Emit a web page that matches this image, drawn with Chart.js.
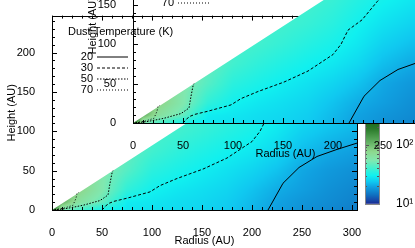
<!DOCTYPE html>
<html lang="en">
<head>
<meta charset="UTF-8">
<title>Dust temperature</title>
<script src="https://cdn.jsdelivr.net/npm/chart.js@4.4.0/dist/chart.umd.min.js"></script>
<style>
  html, body { margin: 0; padding: 0; background: #fff; }
  #wrap { position: relative; width: 415px; height: 248px; overflow: hidden; }
  canvas { position: absolute; }
  #main { left: 0; top: 0; background: #fff; }
  #cbar { left: 360px; top: 105px; }
  #inset { left: 81px; top: -87px; }
</style>
</head>
<body>
<div id="wrap">
  <canvas id="main" width="415" height="248"></canvas>
  <canvas id="cbar" width="55" height="115"></canvas>
  <canvas id="inset" width="415" height="248"></canvas>
</div>
<script>
// grid of dust temperature (K)
const radiusNodes = [0, 10, 25, 50, 75, 100, 125, 150, 175, 200, 225, 250, 275, 300, 325];
const heightNodes = [0, 10, 25, 50, 75, 100, 125, 150, 175, 200, 250];
const dustTemp = [
  [250,  50, 42, 31,   28.5, 27.5, 26.5, 25.5, 24,   21.5, 19,   17.5, 16.5, 15.5, 15],
  [250, 110, 65, 47,   29.5, 28.5, 27,   26,   24.5, 22,   19.5, 18,   17,   16,   15.5],
  [250, 130, 80, 55,   36,   30.5, 28.5, 27,   25.5, 23,   20.5, 19,   17.5, 16.5, 16],
  [250, 130, 90, 56,   44,   35,   32,   29.5, 27.5, 25.5, 23,   20,   18.5, 17.5, 17],
  [250, 130, 90, 56,   48,   40,   36,   33,   30.5, 28.5, 26,   22.5, 20.5, 19.3, 18.5],
  [250, 130, 90, 56,   48,   42,   40,   37,   34,   31.5, 28.5, 25,   23,   21.5, 20.5],
  [250, 130, 90, 56,   48,   42,   41,   40,   37.5, 34.5, 30.5, 27.5, 25.5, 24,   23],
  [250, 130, 90, 56,   48,   42,   41,   41,   40,   37,   33,   30,   28,   26.5, 25.5],
  [250, 130, 90, 56,   48,   42,   41,   41,   41,   40,   36,   32.5, 30.5, 29,   28],
  [250, 130, 90, 56,   48,   42,   41,   41,   41,   41,   39,   35.5, 33,   31.5, 30.5],
  [250, 130, 90, 56,   48,   42,   41,   41,   41,   41,   41,   40,   38,   36,   35]
];

// disk surface (above it nothing is plotted)
const surfaceR = [0, 50, 100, 150, 200, 250, 300, 330];
const surfaceZ = [0, 41, 82, 123, 164, 205, 246, 271];

// contour lines [radius, height]
const contourLevels = [20, 30, 50, 70];
const contour20 = [[216, 0], [231, 34], [247, 54], [265, 68], [285, 77], [305, 85]];
const contour30 = [[50, 0], [56, 8], [62, 11], [75, 15], [98, 23], [108, 31], [125, 40], [151, 52],
                   [175, 66], [200, 87], [208, 100], [215, 118], [229, 131], [244, 154], [250, 162]];
const contour50 = [[2, 0], [15, 2], [31, 6], [48, 12], [56, 19], [58, 34], [60, 47], [61, 50]];
const contour70 = [[0, 0], [11, 2], [21, 6], [24, 15], [25, 21], [27, 22.5]];

// colour bar
const cbarTemps  = [10, 11.5, 14.1, 19.2, 23.6, 30, 39.5, 54, 76, 119, 186, 250];
const cbarColors = ['#1a2a90', '#1848a8', '#1070c0', '#10a0e0', '#10c8f0', '#10f0f0',
                    '#40f0d0', '#80e8b0', '#8ed88e', '#5aa85a', '#2a7a2a', '#1e6a1e'];
const cbarTickValues = [10, 100];
const cbarTickLabels = ['10¹', '10²'];
const cbarMinorTicks = [20, 30, 40, 50, 60, 70, 80, 90, 200];

Chart.defaults.font.family = "'Liberation Sans', Arial, sans-serif";
Chart.defaults.font.size = 11;
Chart.defaults.color = '#000';

const contourData = {20: contour20, 30: contour30, 50: contour50, 70: contour70};
const dashes = {20: [], 30: [3, 2], 50: [1.5, 1.5], 70: [1, 2]};

function locate(nodes, v) {
  if (v <= nodes[0]) return [0, 0];
  for (let i = 0; i < nodes.length - 1; i++) {
    if (v <= nodes[i + 1]) return [i, (v - nodes[i]) / (nodes[i + 1] - nodes[i])];
  }
  return [nodes.length - 2, 1];
}

function tempAt(r, z) {
  const [i, s] = locate(radiusNodes, r);
  const [j, t] = locate(heightNodes, z);
  const L = Math.log;
  const v = (1 - s) * (1 - t) * L(dustTemp[j][i]) + s * (1 - t) * L(dustTemp[j][i + 1]) +
            (1 - s) * t * L(dustTemp[j + 1][i]) + s * t * L(dustTemp[j + 1][i + 1]);
  return Math.exp(v);
}

const rgb = cbarColors.map(h => [1, 3, 5].map(k => parseInt(h.substr(k, 2), 16)));
const logTemps = cbarTemps.map(Math.log);
function colorFor(T) {
  const [i, s] = locate(logTemps, Math.log(T));
  return rgb[i].map((c, k) => Math.round(c + (rgb[i + 1][k] - c) * s));
}

const heatmap = {
  id: 'heatmap',
  beforeDatasetsDraw(chart) {
    const {ctx, chartArea: a, scales: {x, y}} = chart;
    const w = Math.round(a.width), h = Math.round(a.height);
    const off = document.createElement('canvas');
    off.width = w; off.height = h;
    const octx = off.getContext('2d');
    const img = octx.createImageData(w, h);
    for (let j = 0; j < h; j++) {
      const z = y.getValueForPixel(a.top + j + 0.5);
      for (let i = 0; i < w; i++) {
        const r = x.getValueForPixel(a.left + i + 0.5);
        const c = colorFor(tempAt(r, z));
        const p = (j * w + i) * 4;
        img.data[p] = c[0]; img.data[p + 1] = c[1]; img.data[p + 2] = c[2]; img.data[p + 3] = 255;
      }
    }
    octx.putImageData(img, 0, 0);
    ctx.save();
    ctx.beginPath();
    ctx.rect(a.left, a.top, a.width, a.height);
    ctx.clip();
    ctx.beginPath();
    ctx.moveTo(x.getPixelForValue(surfaceR[0]), y.getPixelForValue(0));
    surfaceR.forEach((r, k) => ctx.lineTo(x.getPixelForValue(r), y.getPixelForValue(surfaceZ[k])));
    ctx.lineTo(x.getPixelForValue(surfaceR[surfaceR.length - 1]), y.getPixelForValue(0));
    ctx.closePath();
    ctx.clip();
    ctx.drawImage(off, a.left, a.top);
    ctx.restore();
  }
};

// box with inward ticks on all four sides
const frame = {
  id: 'frame',
  afterDatasetsDraw(chart) {
    const {ctx, chartArea: a, scales: {x, y}} = chart;
    ctx.save();
    ctx.strokeStyle = '#000';
    ctx.lineWidth = 1;
    ctx.beginPath();
    for (let v = 0; v <= x.max; v += 10) {
      const px = Math.round(x.getPixelForValue(v)) + 0.5, len = v % 50 === 0 ? 5 : 3;
      ctx.moveTo(px, a.bottom); ctx.lineTo(px, a.bottom - len);
      ctx.moveTo(px, a.top); ctx.lineTo(px, a.top + len);
    }
    for (let v = 0; v <= y.max; v += 10) {
      const py = Math.round(y.getPixelForValue(v)) + 0.5, len = v % 50 === 0 ? 5 : 3;
      ctx.moveTo(a.left, py); ctx.lineTo(a.left + len, py);
      ctx.moveTo(a.right, py); ctx.lineTo(a.right - len, py);
    }
    ctx.stroke();
    ctx.strokeRect(Math.round(a.left) + 0.5, Math.round(a.top) + 0.5, Math.round(a.width), Math.round(a.height));
    ctx.restore();
  }
};

const keyBox = {
  id: 'keyBox',
  afterDraw(chart) {
    const ctx = chart.ctx;
    ctx.save();
    ctx.font = "11px 'Liberation Sans', Arial, sans-serif";
    ctx.fillStyle = '#000';
    ctx.textBaseline = 'middle';
    ctx.textAlign = 'left';
    ctx.fillText('Dust Temperature (K)', 68, 32);
    ctx.textAlign = 'right';
    contourLevels.forEach((lev, k) => {
      const yy = 57 + k * 11;
      ctx.fillText(String(lev), 93, yy);
      ctx.beginPath();
      ctx.setLineDash(dashes[lev]);
      ctx.strokeStyle = '#000';
      ctx.lineWidth = 1;
      ctx.moveTo(97, yy); ctx.lineTo(128, yy);
      ctx.stroke();
    });
    ctx.restore();
  }
};

function makeChart(id) {
  return new Chart(document.getElementById(id), {
    type: 'scatter',
    data: {
      datasets: contourLevels.map(lev => ({
        label: lev + ' K',
        data: contourData[lev].map(([r, z]) => ({x: r, y: z})),
        showLine: true,
        pointRadius: 0,
        borderColor: '#000',
        borderWidth: 1,
        borderDash: dashes[lev],
        tension: 0
      }))
    },
    options: {
      responsive: false,
      animation: false,
      events: [],
      layout: {padding: {left: 0, top: 12, right: 58, bottom: 0}},
      plugins: {legend: {display: false}, tooltip: {enabled: false}},
      scales: {
        x: {
          type: 'linear', min: 0, max: 305,
          afterFit: s => { s.height = 38; },
          grid: {display: false}, border: {display: false},
          ticks: {stepSize: 50, includeBounds: false, padding: 8, maxRotation: 0},
          title: {display: true, text: 'Radius (AU)', padding: {top: 0, bottom: 0}}
        },
        y: {
          type: 'linear', min: 0, max: 247,
          afterFit: s => { s.width = 52; },
          grid: {display: false}, border: {display: false},
          ticks: {stepSize: 50, includeBounds: false, padding: 9},
          title: {display: true, text: 'Height (AU)', padding: {top: 5, bottom: 0}}
        }
      }
    },
    plugins: [heatmap, frame, keyBox]
  });
}

const colorbar = {
  id: 'colorbar',
  beforeDraw(chart) {
    const {ctx, chartArea: a, scales: {y}} = chart;
    const g = ctx.createLinearGradient(0, a.bottom, 0, a.top);
    cbarTemps.forEach((t, k) => {
      g.addColorStop(Math.min(1, Math.max(0, (a.bottom - y.getPixelForValue(t)) / (a.bottom - a.top))), cbarColors[k]);
    });
    ctx.save();
    ctx.fillStyle = g;
    ctx.fillRect(a.left, a.top, a.width, a.height);
    ctx.strokeStyle = '#555';
    ctx.lineWidth = 1;
    ctx.beginPath();
    cbarMinorTicks.concat(cbarTickValues).forEach(t => {
      const py = Math.round(y.getPixelForValue(t)) + 0.5;
      const len = cbarTickValues.includes(t) ? 4 : 2;
      ctx.moveTo(a.left, py); ctx.lineTo(a.left + len, py);
      ctx.moveTo(a.right, py); ctx.lineTo(a.right - len, py);
    });
    ctx.stroke();
    ctx.strokeStyle = '#888';
    ctx.strokeRect(Math.round(a.left) + 0.5, Math.round(a.top) + 0.5, Math.round(a.width), Math.round(a.height));
    ctx.restore();
  }
};

makeChart('main');

new Chart(document.getElementById('cbar'), {
  type: 'bar',
  data: {labels: [''], datasets: []},
  options: {
    responsive: false,
    animation: false,
    events: [],
    layout: {padding: {left: 5, top: 11, right: 0, bottom: 10}},
    plugins: {legend: {display: false}, tooltip: {enabled: false}},
    scales: {
      x: {display: false},
      y: {
        type: 'logarithmic', position: 'right',
        min: cbarTemps[0], max: cbarTemps[cbarTemps.length - 1],
        afterFit: s => { s.width = 36; },
        grid: {display: false}, border: {display: false},
        ticks: {
          autoSkip: false, padding: 9, font: {size: 12},
          callback: v => {
            const k = cbarTickValues.findIndex(t => Math.abs(t - v) < 1e-6);
            return k >= 0 ? cbarTickLabels[k] : '';
          }
        }
      }
    }
  },
  plugins: [colorbar]
});

makeChart('inset');
</script>
</body>
</html>
